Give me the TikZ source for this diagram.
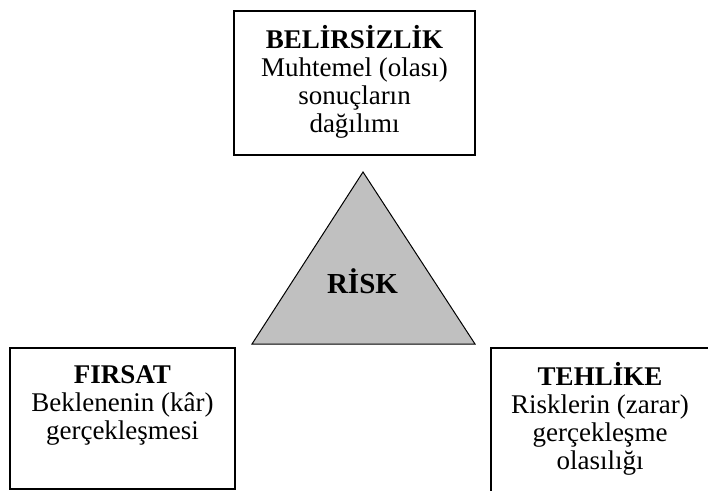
\documentclass[tikz,border=0pt]{standalone}
\usepackage{fontspec}
\setmainfont{Liberation Serif}
\definecolor{riskgray}{HTML}{C0C0C0}
\begin{document}
\begin{tikzpicture}[x=1pt,y=-1pt,
  panel/.style={draw=black, line width=1.3pt, inner sep=0pt},
  boxtext/.style={inner sep=0pt, align=center, anchor=north,
    font=\fontsize{27pt}{28pt}\selectfont},
  risktext/.style={inner sep=0pt, anchor=base,
    font=\fontsize{29pt}{32pt}\selectfont\bfseries}]
  \useasboundingbox (0,0) rectangle (708,490);
  \clip (0,0) rectangle (708,490);

  % three boxes
  \node[panel, minimum width=241pt, minimum height=144pt] (belirsizlik) at (354.5,83) {};
  \node[panel, minimum width=225pt, minimum height=141pt] (firsat) at (122.5,418.5) {};
  \node[panel, minimum width=225pt, minimum height=160pt] (tehlike) at (603.5,428) {};

  % box texts (first baseline 22pt below the north anchor)
  \node[boxtext] (belirsizlik-t) at (354.5,25)
    {\rule{0pt}{22pt}\textbf{BELİRSİZLİK}\\Muhtemel (olası)\\sonuçların\\dağılımı};
  \node[boxtext] (firsat-t) at (122.5,361)
    {\rule{0pt}{22pt}\textbf{FIRSAT}\\Beklenenin (kâr)\\gerçekleşmesi};
  \node[boxtext] (tehlike-t) at (600,362)
    {\rule{0pt}{22pt}\textbf{TEHLİKE}\\Risklerin (zarar)\\gerçekleşme\\olasılığı};

  % central triangle
  \coordinate (apex) at (363,172);
  \coordinate (left) at (252,344);
  \coordinate (right) at (475,344);
  \draw[fill=riskgray, line width=1pt, line join=miter] (apex) -- (left) -- (right) -- cycle;
  \node[risktext] (risk) at (362.5,293) {RİSK};
\end{tikzpicture}
\end{document}
